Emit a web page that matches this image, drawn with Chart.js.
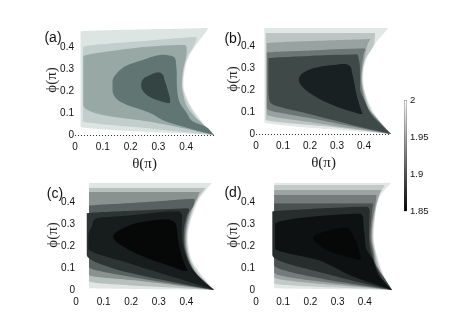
<!DOCTYPE html>
<html>
<head>
<meta charset="utf-8">
<script src="https://cdn.jsdelivr.net/npm/chart.js@4/dist/chart.umd.min.js"></script>
<style>
    html, body { margin: 0; background: #fff; overflow: hidden; }
    canvas { position: absolute; }
    .tag { position: absolute; font: 14px "Liberation Sans", sans-serif; color: #111; transform: translate(-50%, -50%); }
</style>
</head>
<body>
<canvas id="chartA" width="190" height="165" style="left:40px;top:15px"></canvas>
<canvas id="chartB" width="190" height="165" style="left:221px;top:14px"></canvas>
<canvas id="chartC" width="190" height="150" style="left:41px;top:170px"></canvas>
<canvas id="chartD" width="190" height="150" style="left:221px;top:170px"></canvas>
<canvas id="chartBar" width="50" height="130" style="left:395px;top:90px"></canvas>
<div class="tag" style="left:53px;top:37px">(a)</div>
<div class="tag" style="left:233px;top:38px">(b)</div>
<div class="tag" style="left:55px;top:193px">(c)</div>
<div class="tag" style="left:233px;top:192px">(d)</div>
<script>
const xTicks = [0, 0.1, 0.2, 0.3, 0.4]
const yTicks = [0, 0.1, 0.2, 0.3, 0.4]
const barTicks = [1.85, 1.9, 1.95, 2]

// contour bands, every row is [phi, theta left, theta right]
const a1 = [[0, .5, .5], [.038, .02, .472], [.091, .02, .438], [.168, .02, .402], [.227, .02, .39], [.273, .02, .392], [.35, .02, .407], [.423, .02, .443], [.47, .02, .472], [.486, .479, .479]]
const a2 = [[0, .5, .5], [.03, .27, .476], [.064, .028, .45], [.091, .028, .432], [.168, .028, .398], [.227, .028, .387], [.273, .028, .389], [.35, .028, .403], [.40, .03, .425], [.425, .22, .435], [.447, .438, .438]]
const a3 = [[0, .5, .5], [.06, .27, .45], [.091, .1, .425], [.136, .03, .40], [.182, .03, .39], [.227, .03, .384], [.303, .03, .39], [.356, .03, .4], [.385, .15, .402], [.405, .30, .40], [.41, .39, .395]]
const a4 = [[0, .5, .5], [.038, .39, .47], [.06, .33, .426], [.1, .27, .402], [.144, .174, .378], [.18, .14, .37], [.212, .135, .367], [.245, .135, .366], [.28, .15, .366], [.318, .19, .364], [.348, .26, .36], [.36, .29, .345], [.366, .315, .32]]
const a5 = [[.144, .336, .342], [.159, .294, .342], [.189, .252, .337], [.227, .238, .328], [.26, .25, .32], [.273, .27, .317], [.285, .294, .305]]

const b1 = [[0, .5, .5], [.056, .031, .46], [.101, .031, .434], [.192, .031, .404], [.255, .031, .397], [.344, .031, .41], [.42, .031, .447], [.47, .031, .482], [.483, .031, .489]]
const b2 = [[0, .5, .5], [.03, .3, .476], [.066, .036, .452], [.101, .036, .43], [.192, .036, .401], [.255, .036, .394], [.344, .036, .406], [.4, .036, .435], [.459, .036, .441]]
const b3 = [[0, .5, .5], [.048, .235, .462], [.09, .04, .43], [.192, .04, .398], [.255, .04, .391], [.344, .04, .402], [.412, .04, .415], [.432, .42, .424]]
const b4 = [[0, .5, .5], [.064, .237, .452], [.117, .04, .415], [.192, .04, .395], [.255, .04, .389], [.344, .04, .396], [.37, .04, .4], [.38, .2, .404], [.39, .40, .404]]
const b5 = [[0, .5, .5], [.04, .36, .465], [.086, .212, .428], [.144, .052, .405], [.21, .046, .385], [.3, .046, .385], [.344, .046, .38], [.355, .2, .378], [.362, .37, .376]]
const b6 = [[.091, .385, .395], [.124, .299, .385], [.185, .2, .371], [.245, .159, .362], [.283, .181, .355], [.306, .237, .35], [.318, .32, .335]]

const c1 = [[0, .5, .5], [.008, .047, .495], [.045, .047, .47], [.123, .047, .425], [.18, .047, .41], [.227, .047, .406], [.273, .047, .408], [.35, .047, .425], [.418, .047, .449], [.488, .047, .493]]
const c2 = [[0, .5, .5], [.04, .047, .468], [.123, .047, .42], [.18, .047, .406], [.227, .047, .402], [.273, .047, .404], [.35, .047, .42], [.42, .047, .444], [.465, .047, .47]]
const c3 = [[0, .5, .5], [.038, .255, .462], [.068, .047, .44], [.123, .047, .416], [.18, .047, .402], [.227, .047, .398], [.273, .047, .4], [.35, .047, .415], [.42, .047, .44], [.445, .047, .448]]
const c4 = [[0, .5, .5], [.053, .231, .45], [.106, .047, .42], [.18, .047, .398], [.227, .047, .394], [.273, .047, .396], [.35, .047, .41], [.382, .047, .425], [.395, .2, .428], [.415, .42, .43]]
const c5 = [[0, .5, .5], [.045, .316, .46], [.098, .135, .42], [.159, .039, .4], [.227, .039, .39], [.273, .039, .391], [.33, .039, .4], [.348, .039, .405], [.36, .2, .41], [.372, .39, .408]]
const c6 = [[0, .5, .5], [.045, .388, .455], [.121, .195, .41], [.19, .045, .39], [.25, .045, .383], [.3, .06, .383], [.326, .075, .385], [.34, .2, .385], [.358, .33, .375]]
const c7 = [[.086, .388, .405], [.1, .36, .4], [.129, .292, .39], [.189, .183, .376], [.242, .135, .368], [.288, .183, .364], [.31, .243, .355], [.322, .31, .335]]

const d1 = [[0, .5, .5], [.008, .067, .495], [.076, .067, .467], [.167, .067, .443], [.242, .067, .433], [.303, .067, .436], [.424, .067, .455], [.488, .067, .497]]
const d2 = [[0, .5, .5], [.03, .067, .482], [.076, .067, .463], [.167, .067, .44], [.242, .067, .43], [.303, .067, .433], [.424, .067, .452], [.477, .067, .473]]
const d3 = [[0, .5, .5], [.058, .067, .47], [.1, .067, .45], [.167, .067, .437], [.242, .067, .427], [.303, .067, .43], [.424, .067, .45], [.455, .067, .461]]
const d4 = [[0, .5, .5], [.08, .067, .458], [.12, .067, .44], [.167, .067, .434], [.242, .067, .424], [.303, .067, .427], [.4, .067, .44], [.432, .067, .443]]
const d5 = [[0, .5, .5], [.053, .235, .472], [.114, .067, .44], [.167, .067, .43], [.242, .067, .42], [.303, .067, .423], [.394, .067, .43]]
const d6 = [[0, .5, .5], [.06, .3, .46], [.159, .06, .426], [.242, .06, .415], [.303, .06, .416], [.356, .06, .418], [.368, .2, .416], [.379, .40, .41]]
const d7 = [[0, .5, .5], [.06, .36, .455], [.114, .271, .436], [.136, .23, .43], [.19, .07, .405], [.242, .07, .4], [.3, .07, .395], [.333, .2, .393], [.348, .36, .385]]
const d8 = [[.136, .381, .385], [.144, .357, .385], [.174, .271, .38], [.212, .225, .371], [.235, .21, .362], [.265, .25, .35], [.284, .32, .335]]

const aColors = ['#dce5e2', '#c2cecb', '#98a8a5', '#617573', '#344443']
const bColors = ['#e2e8e6', '#bcc5c3', '#98a2a0', '#6c7675', '#3f4948', '#192022']
const cColors = ['#e0e6e4', '#b8c0be', '#8a9290', '#596160', '#2d3534', '#171c1c', '#060808']
const dColors = ['#e3e8e6', '#c3c9c7', '#9ea4a3', '#757b7a', '#4a504f', '#272c2c', '#0e1111', '#060808']

const tickFont = { family: '"Liberation Sans", sans-serif', size: 10 }
const titleFont = { family: '"Liberation Serif", serif', size: 15 }

// two line datasets per band, the first fills over to the second
function getBandDatasets(levels, colors) {
    let datasets = []
    for (let i = levels.length - 1; i >= 0; i--) {
        let rows = levels[i]
        datasets.push({
            data: rows.map(r => ({ x: r[1], y: r[0] })),
            fill: '+1',
            backgroundColor: colors[i],
            borderWidth: 0,
            pointRadius: 0,
            cubicInterpolationMode: 'monotone'
        })
        datasets.push({
            data: rows.map(r => ({ x: r[2], y: r[0] })),
            fill: false,
            borderWidth: 0,
            pointRadius: 0,
            cubicInterpolationMode: 'monotone'
        })
    }
    return datasets
}

function drawPanel(id, levels, colors, rightPad, hasTitle, hasDots) {
    const canvas = document.getElementById(id)
    new Chart(canvas, {
        type: 'line',
        data: { datasets: getBandDatasets(levels, colors) },
        options: {
            indexAxis: 'y',
            responsive: false,
            animation: false,
            layout: { padding: { top: 10, right: rightPad, left: 0, bottom: 0 } },
            plugins: { legend: { display: false }, tooltip: { enabled: false } },
            scales: {
                x: {
                    type: 'linear',
                    min: 0,
                    max: 0.5,
                    afterBuildTicks: s => { s.ticks = xTicks.map(v => ({ value: v })) },
                    afterFit: s => { s.height = canvas.height - 120 },
                    grid: { display: false, drawTicks: false },
                    border: { display: false },
                    ticks: { font: tickFont, color: '#111', padding: 6, maxRotation: 0, callback: v => v },
                    title: { display: hasTitle, text: 'θ(π)', font: titleFont, color: '#222', padding: { top: 0, bottom: 7 } }
                },
                y: {
                    type: 'linear',
                    min: 0,
                    max: 0.5,
                    afterBuildTicks: s => { s.ticks = yTicks.map(v => ({ value: v })) },
                    afterFit: s => { s.width = 35 },
                    // only the phi = 0 grid line is shown, dotted
                    grid: {
                        display: hasDots,
                        drawTicks: false,
                        color: ctx => ctx.tick && ctx.tick.value === 0 ? '#333' : 'rgba(0,0,0,0)'
                    },
                    border: { display: false, dash: [1, 2] },
                    ticks: { font: tickFont, color: '#111', padding: 1, callback: v => v },
                    title: { display: true, text: 'ϕ(π)', font: titleFont, color: '#222', padding: { top: 3, bottom: 0 } }
                }
            }
        }
    })
}

drawPanel('chartA', [a1, a2, a3, a4, a5], aColors, 16, true, true)
drawPanel('chartB', [b1, b2, b3, b4, b5, b6], bColors, 20, true, true)
drawPanel('chartC', [c1, c2, c3, c4, c5, c6, c7], cColors, 17, false, false)
drawPanel('chartD', [d1, d2, d3, d4, d5, d6, d7, d8], dColors, 19, false, false)

// colour bar, a single floating bar with a grey ramp
new Chart(document.getElementById('chartBar'), {
    type: 'bar',
    data: {
        labels: [''],
        datasets: [{
            data: [[1.85, 2]],
            barPercentage: 1,
            categoryPercentage: 1,
            borderWidth: 0.6,
            borderColor: '#222',
            borderSkipped: false,
            backgroundColor: ctx => {
                const area = ctx.chart.chartArea
                if (!area) return '#888'
                const ramp = ctx.chart.ctx.createLinearGradient(0, area.top, 0, area.bottom)
                ramp.addColorStop(0, '#ffffff')
                ramp.addColorStop(1, '#000000')
                return ramp
            }
        }]
    },
    options: {
        responsive: false,
        animation: false,
        layout: { padding: { top: 10, bottom: 8, left: 9, right: 0 } },
        plugins: { legend: { display: false }, tooltip: { enabled: false } },
        scales: {
            x: { display: false },
            y: {
                position: 'right',
                min: 1.85,
                max: 2,
                afterBuildTicks: s => { s.ticks = barTicks.map(v => ({ value: v })) },
                afterFit: s => { s.width = 38 },
                grid: { display: false, drawTicks: false },
                border: { display: false },
                ticks: { font: { family: '"Liberation Sans", sans-serif', size: 9.5 }, color: '#111', padding: 3, callback: v => v }
            }
        }
    }
})
</script>
</body>
</html>
